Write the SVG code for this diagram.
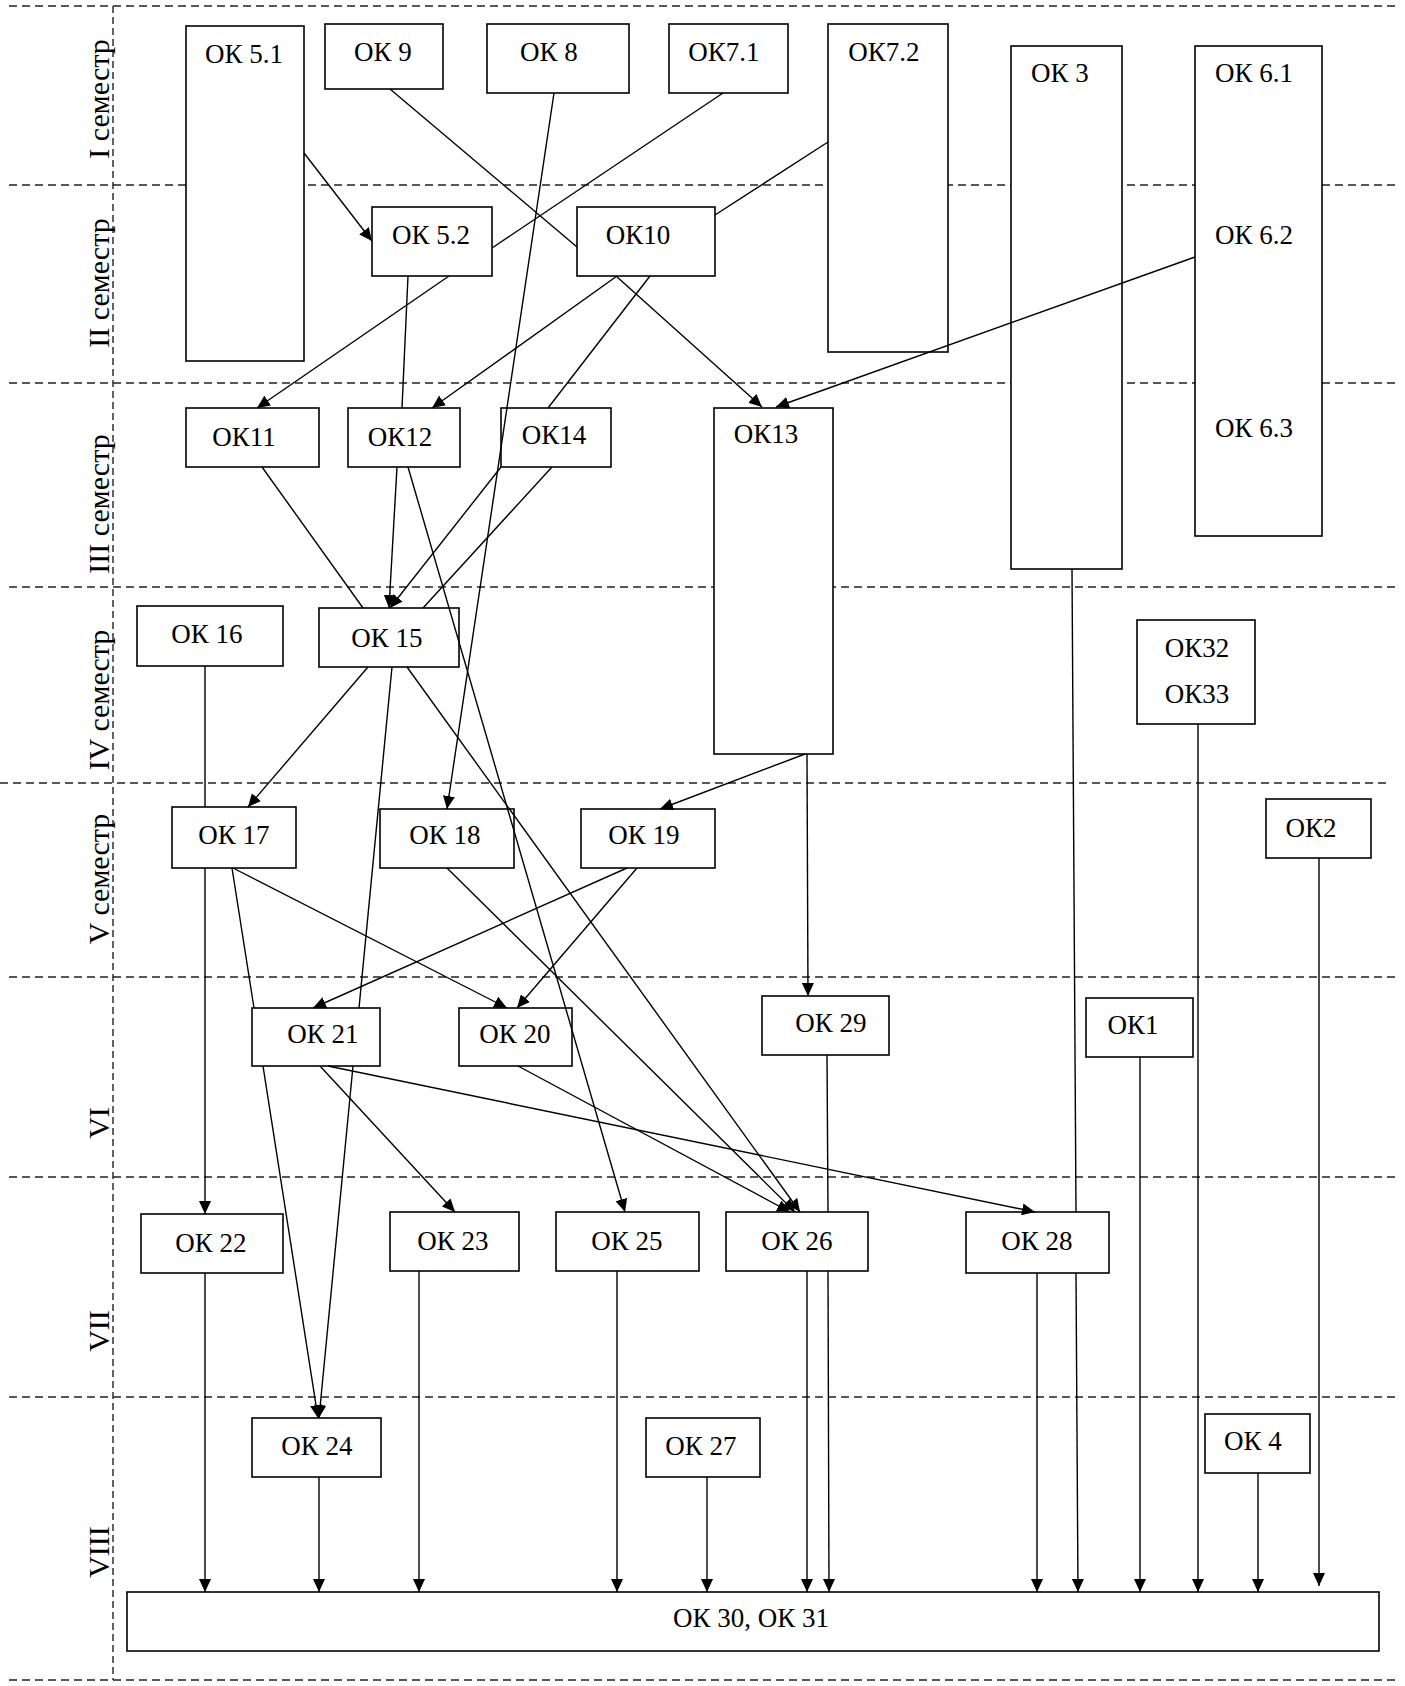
<svg xmlns="http://www.w3.org/2000/svg" width="1405" height="1686" viewBox="0 0 1405 1686">
<style>
.grid{stroke:#222;stroke-width:1.4;stroke-dasharray:8 5;fill:none}
.vgrid{stroke:#222;stroke-width:1.4;stroke-dasharray:7 4;fill:none}
.box{fill:#fff;stroke:#000;stroke-width:1.6}
.lbl{font-family:"Liberation Serif","Times New Roman",serif;font-size:27px;fill:#000;text-anchor:middle}
.sem{font-family:"Liberation Serif","Times New Roman",serif;font-size:30px;fill:#000;text-anchor:middle}
.c{stroke:#000;stroke-width:1.4;fill:none}
.a{stroke:#000;stroke-width:1.4;fill:none;marker-end:url(#arr)}
</style>
<defs>
<marker id="arr" markerUnits="userSpaceOnUse" markerWidth="14" markerHeight="12" refX="13" refY="6" orient="auto">
<path d="M0,0 L13,6 L0,12 z" fill="#000"/>
</marker>
</defs>
<rect x="0" y="0" width="1405" height="1686" fill="#fff"/>
<g id="grid">
<line class="grid" x1="9" y1="6" x2="1395" y2="6"/>
<line class="grid" x1="9" y1="185" x2="1395" y2="185"/>
<line class="grid" x1="9" y1="383" x2="1395" y2="383"/>
<line class="grid" x1="9" y1="587" x2="1395" y2="587"/>
<line class="grid" x1="0" y1="783" x2="1388" y2="783"/>
<line class="grid" x1="9" y1="977" x2="1395" y2="977"/>
<line class="grid" x1="9" y1="1177" x2="1395" y2="1177"/>
<line class="grid" x1="9" y1="1397" x2="1395" y2="1397"/>
<line class="grid" x1="9" y1="1680" x2="1395" y2="1680"/>
<line class="vgrid" x1="113" y1="6" x2="113" y2="1680"/>
</g>
<g id="semesters">
<text class="sem" transform="translate(109,99) rotate(-90)">I семестр</text>
<text class="sem" transform="translate(109,283) rotate(-90)">II семестр</text>
<text class="sem" transform="translate(109,504) rotate(-90)">III семестр</text>
<text class="sem" transform="translate(109,700) rotate(-90)">IV семестр</text>
<text class="sem" transform="translate(109,879) rotate(-90)">V семестр</text>
<text class="sem" transform="translate(109,1123) rotate(-90)">VI</text>
<text class="sem" transform="translate(109,1331) rotate(-90)">VII</text>
<text class="sem" transform="translate(109,1552) rotate(-90)">VIII</text>
</g>
<g id="nodes">
<g id="ok5_1"><rect class="box" x="186" y="26" width="118" height="335"/><text class="lbl" x="244" y="63">ОК 5.1</text></g>
<g id="ok9"><rect class="box" x="325" y="24" width="118" height="65"/><text class="lbl" x="383" y="61">ОК 9</text></g>
<g id="ok8"><rect class="box" x="487" y="24" width="142" height="69"/><text class="lbl" x="549" y="61">ОК 8</text></g>
<g id="ok7_1"><rect class="box" x="669" y="24" width="119" height="69"/><text class="lbl" x="724" y="61">ОК7.1</text></g>
<g id="ok7_2"><rect class="box" x="828" y="24" width="120" height="328"/><text class="lbl" x="884" y="61">ОК7.2</text></g>
<g id="ok3"><rect class="box" x="1011" y="46" width="111" height="523"/><text class="lbl" x="1060" y="82">ОК 3</text></g>
<g id="ok6"><rect class="box" x="1195" y="46" width="127" height="490"/><text class="lbl" x="1254" y="82">ОК 6.1</text><text class="lbl" x="1254" y="244">ОК 6.2</text><text class="lbl" x="1254" y="437">ОК 6.3</text></g>
<g id="ok5_2"><rect class="box" x="372" y="207" width="120" height="69"/><text class="lbl" x="431" y="244">ОК 5.2</text></g>
<g id="ok10"><rect class="box" x="577" y="207" width="138" height="69"/><text class="lbl" x="638" y="244">ОК10</text></g>
<g id="ok11"><rect class="box" x="186" y="408" width="133" height="59"/><text class="lbl" x="244" y="446">ОК11</text></g>
<g id="ok12"><rect class="box" x="348" y="408" width="112" height="59"/><text class="lbl" x="400" y="446">ОК12</text></g>
<g id="ok14"><rect class="box" x="501" y="408" width="110" height="59"/><text class="lbl" x="554" y="444">ОК14</text></g>
<g id="ok13"><rect class="box" x="714" y="408" width="119" height="346"/><text class="lbl" x="766" y="443">ОК13</text></g>
<g id="ok16"><rect class="box" x="137" y="606" width="146" height="60"/><text class="lbl" x="207" y="643">ОК 16</text></g>
<g id="ok15"><rect class="box" x="319" y="608" width="140" height="59"/><text class="lbl" x="387" y="647">ОК 15</text></g>
<g id="ok32_33"><rect class="box" x="1137" y="620" width="118" height="104"/><text class="lbl" x="1197" y="657">ОК32</text><text class="lbl" x="1197" y="703">ОК33</text></g>
<g id="ok17"><rect class="box" x="172" y="807" width="124" height="61"/><text class="lbl" x="234" y="844">ОК 17</text></g>
<g id="ok18"><rect class="box" x="380" y="809" width="134" height="59"/><text class="lbl" x="445" y="844">ОК 18</text></g>
<g id="ok19"><rect class="box" x="581" y="809" width="134" height="59"/><text class="lbl" x="644" y="844">ОК 19</text></g>
<g id="ok2"><rect class="box" x="1266" y="799" width="105" height="59"/><text class="lbl" x="1311" y="837">ОК2</text></g>
<g id="ok21"><rect class="box" x="252" y="1008" width="128" height="58"/><text class="lbl" x="323" y="1043">ОК 21</text></g>
<g id="ok20"><rect class="box" x="459" y="1008" width="113" height="58"/><text class="lbl" x="515" y="1043">ОК 20</text></g>
<g id="ok29"><rect class="box" x="762" y="996" width="127" height="59"/><text class="lbl" x="831" y="1032">ОК 29</text></g>
<g id="ok1"><rect class="box" x="1086" y="998" width="107" height="59"/><text class="lbl" x="1133" y="1034">ОК1</text></g>
<g id="ok22"><rect class="box" x="141" y="1214" width="142" height="59"/><text class="lbl" x="211" y="1252">ОК 22</text></g>
<g id="ok23"><rect class="box" x="390" y="1212" width="129" height="59"/><text class="lbl" x="453" y="1250">ОК 23</text></g>
<g id="ok25"><rect class="box" x="556" y="1212" width="143" height="59"/><text class="lbl" x="627" y="1250">ОК 25</text></g>
<g id="ok26"><rect class="box" x="726" y="1212" width="142" height="59"/><text class="lbl" x="797" y="1250">ОК 26</text></g>
<g id="ok28"><rect class="box" x="966" y="1212" width="143" height="61"/><text class="lbl" x="1037" y="1250">ОК 28</text></g>
<g id="ok24"><rect class="box" x="252" y="1418" width="129" height="59"/><text class="lbl" x="317" y="1455">ОК 24</text></g>
<g id="ok27"><rect class="box" x="646" y="1418" width="114" height="59"/><text class="lbl" x="701" y="1455">ОК 27</text></g>
<g id="ok4"><rect class="box" x="1205" y="1414" width="105" height="59"/><text class="lbl" x="1253" y="1450">ОК 4</text></g>
<g id="ok30_31"><rect class="box" x="127" y="1592" width="1252" height="59"/><text class="lbl" x="751" y="1627">ОК 30, ОК 31</text></g>
</g>
<g id="connectors">
<line class="a" x1="304" y1="153" x2="372" y2="241"/>
<line class="c" x1="390" y1="89" x2="577" y2="247"/>
<line class="a" x1="616" y1="276" x2="762" y2="407"/>
<line class="c" x1="723" y1="93" x2="492" y2="248"/>
<line class="a" x1="449" y1="276" x2="257" y2="408"/>
<line class="c" x1="828" y1="142" x2="715" y2="215"/>
<line class="a" x1="617" y1="276" x2="432" y2="408"/>
<line class="c" x1="650" y1="276" x2="548" y2="408"/>
<line class="a" x1="501" y1="467" x2="390" y2="608"/>
<line class="a" x1="554" y1="93" x2="447" y2="809"/>
<line class="c" x1="408" y1="276" x2="402" y2="408"/>
<line class="a" x1="397" y1="467" x2="389" y2="608"/>
<line class="a" x1="408" y1="467" x2="625" y2="1212"/>
<line class="c" x1="262" y1="467" x2="363" y2="608"/>
<line class="c" x1="552" y1="467" x2="423" y2="608"/>
<line class="a" x1="1195" y1="257" x2="776" y2="407"/>
<line class="a" x1="805" y1="754" x2="660" y2="809"/>
<line class="a" x1="807" y1="754" x2="808" y2="996"/>
<line class="c" x1="205" y1="666" x2="205" y2="807"/>
<line class="a" x1="205" y1="868" x2="205" y2="1214"/>
<line class="a" x1="205" y1="1273" x2="205" y2="1592"/>
<line class="a" x1="368" y1="667" x2="248" y2="807"/>
<line class="c" x1="392" y1="667" x2="359" y2="1008"/>
<line class="a" x1="353" y1="1066" x2="319" y2="1418"/>
<line class="c" x1="232" y1="868" x2="254" y2="1008"/>
<line class="a" x1="263" y1="1066" x2="318" y2="1418"/>
<line class="a" x1="233" y1="868" x2="507" y2="1008"/>
<line class="a" x1="627" y1="868" x2="313" y2="1008"/>
<line class="a" x1="637" y1="868" x2="517" y2="1008"/>
<line class="a" x1="407" y1="667" x2="800" y2="1212"/>
<line class="a" x1="447" y1="868" x2="795" y2="1212"/>
<line class="a" x1="518" y1="1066" x2="790" y2="1212"/>
<line class="a" x1="320" y1="1066" x2="455" y2="1212"/>
<line class="a" x1="328" y1="1066" x2="1035" y2="1212"/>
<line class="c" x1="827" y1="1055" x2="828" y2="1212"/>
<line class="a" x1="828" y1="1271" x2="829" y2="1592"/>
<line class="a" x1="807" y1="1271" x2="807" y2="1592"/>
<line class="a" x1="617" y1="1271" x2="617" y2="1592"/>
<line class="a" x1="707" y1="1477" x2="707" y2="1592"/>
<line class="a" x1="419" y1="1271" x2="419" y2="1592"/>
<line class="a" x1="319" y1="1477" x2="319" y2="1592"/>
<line class="a" x1="1037" y1="1273" x2="1037" y2="1592"/>
<line class="c" x1="1072" y1="569" x2="1076" y2="1212"/>
<line class="a" x1="1076" y1="1273" x2="1078" y2="1592"/>
<line class="a" x1="1140" y1="1057" x2="1140" y2="1592"/>
<line class="a" x1="1198" y1="724" x2="1198" y2="1592"/>
<line class="a" x1="1258" y1="1473" x2="1258" y2="1592"/>
<line class="a" x1="1319" y1="858" x2="1319" y2="1586"/>
</g>
</svg>
